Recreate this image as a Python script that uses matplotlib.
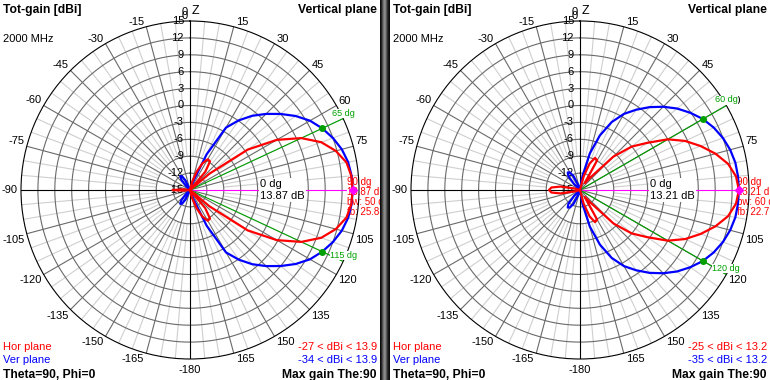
import numpy as np
import matplotlib
matplotlib.use("Agg")
import matplotlib.pyplot as plt
from matplotlib.transforms import Bbox, TransformedBbox

plt.rcParams['font.family'] = ['Liberation Sans', 'DejaVu Sans']

W, H = 770, 380
R, CY = 169, 190          # plot radius / centre height, pixels

# sample angles, degrees from Z, clockwise (-180 ... 180)
angles = np.arange(-180, 185, 5)

# gain in dBi at each angle
left_hor = [-27, -22, -20, -19, -20, -22, -24, -25, -26, -27, -25, -22, -20, -19, -20, -22, -17, -13.8,
            -11.9,
            -13.8, -17, -22, -20, -19, -20, -22, -25, -27, -26, -25, -24, -22, -20, -19, -20, -22,
            -27, -22, -16, -13.5, -11.5, -9.8, -8.7, -8.8, -10.8, -17, -10.5, -2.5, 2.8, 6.8, 9.8, 11.8, 13.2, 13.75,
            13.87,
            13.75, 13.2, 11.8, 9.8, 6.8, 2.8, -2.5, -10.5, -17, -10.8, -8.8, -8.7, -9.8, -11.5, -13.5, -16, -22, -27]
left_ver = [-30, -27, -22, -18, -15, -13.2, -12.2, -12.0, -12.6, -14, -17, -21, -25, -29, -32, -34, -32, -30,
            -28,
            -30, -32, -34, -32, -29, -25, -21, -17, -14, -12.6, -12.0, -12.2, -13.2, -15, -18, -22, -27,
            -30, -25, -21, -18, -13.5, -8, -2.2, 0.1, 2.2, 4.1, 6.0, 7.9, 9.6, 10.9, 12.0, 12.9, 13.5, 13.8,
            13.87,
            13.8, 13.5, 12.9, 12.0, 10.9, 9.6, 7.9, 6.0, 4.1, 2.2, 0.1, -2.2, -8, -13.5, -18, -21, -25, -30]
right_hor = [-25, -22, -21, -22, -24, -25, -24, -22, -21, -22, -24, -25, -24, -22, -17.5, -14, -11.5, -9.9,
             -9.5,
             -9.9, -11.5, -14, -17.5, -22, -24, -25, -24, -22, -21, -22, -24, -25, -24, -22, -21, -22,
             -25, -20, -16, -12.5, -10, -8.7, -8.9, -13.5, -12, -6.6, -3, -0.4, 3.0, 5.6, 7.8, 9.9, 11.7, 12.8,
             13.21,
             12.8, 11.7, 9.9, 7.8, 5.6, 3.0, -0.4, -3, -6.6, -12, -13.5, -8.9, -8.7, -10, -12.5, -16, -20, -25]
right_ver = [-30, -25, -20, -16.5, -14, -12.3, -11.4, -11.2, -11.8, -13.5, -16, -20, -24, -28, -31, -33, -35, -33,
             -31,
             -33, -35, -33, -31, -28, -24, -20, -16, -13.5, -11.8, -11.2, -11.4, -12.3, -14, -16.5, -20, -25,
             -30, -18, -12.5, -8.3, -4.7, -1.7, 0.6, 2.4, 4.2, 5.9, 7.5, 8.9, 10.2, 11.2, 12.0, 12.6, 13.0, 13.15,
             13.21,
             13.15, 13.0, 12.6, 12.0, 11.2, 10.2, 8.9, 7.5, 5.9, 4.2, 2.4, 0.6, -1.7, -4.7, -8.3, -12.5, -18, -30]

max_gain = [13.87, 13.21]
bw_angles = [(65, 115), (60, 120)]
beamwidth = [50, 60]
front_back = [25.8, 22.7]
hor_range = [(-27, 13.9), (-25, 13.2)]
ver_range = [(-34, 13.9), (-35, 13.2)]

GRID_DARK = '#6a6a6a'
GRID_LIGHT = '#cfcfcf'
GREEN = '#00a000'

fig = plt.figure(figsize=(W / 100, H / 100), dpi=100)
fig.patch.set_facecolor('white')


def px(x, y):
    return x / W, 1 - y / H


def draw_panel(x0, x1, cx, hor, ver, gmax, bw_pair, bw, fb, hr, vr):
    clip = TransformedBbox(Bbox.from_extents(x0 / W, 0, x1 / W, 1), fig.transFigure)
    ax = fig.add_axes([(cx - R) / W, (H - CY - R) / H, 2 * R / W, 2 * R / H], projection='polar')
    ax.set_theta_zero_location('N')
    ax.set_theta_direction(-1)
    ax.set_autoscale_on(False)
    ax.set_ylim(-15, 15)
    ax.set_xticks([])
    ax.set_yticks([])
    ax.grid(False)
    ax.spines['polar'].set_linewidth(0.8)
    ax.spines['polar'].set_color('black')

    # grid
    full = np.radians(np.linspace(0, 360, 721))
    for r in range(-12, 15, 3):
        ax.plot(full, np.full_like(full, r), color=GRID_DARK, lw=0.8, zorder=1)
    for a in range(0, 360, 5):
        t = np.radians(a)
        if a % 90 == 0:
            continue
        if a % 15 == 0:
            ax.plot([t, t], [-15, 15], color=GRID_DARK, lw=0.8, zorder=1)
        else:
            ax.plot([t, t], [-9, 15], color=GRID_LIGHT, lw=0.8, zorder=0.9)
    for a in (0, 180, 270):
        ax.plot([np.radians(a)] * 2, [-15, 15], color='black', lw=0.8, zorder=1.2)
    ax.plot([np.pi / 2] * 2, [gmax, 15], color='black', lw=0.8, zorder=1.2)
    ax.plot([np.pi / 2] * 2, [-15, gmax], color='magenta', lw=0.8, zorder=1.3)

    # angle labels (90 sits under the red gain text)
    for a in range(-165, 181, 15):
        if a == 90:
            continue
        t = np.radians(a)
        if a == 180:
            ha, va, off = 'center', 'top', (0, -6)
        elif a == -90:
            ha, va, off = 'right', 'center', (-3, 0)
        elif 0 < a < 90:
            ha, va, off = 'left', 'bottom', (2, 0)
        elif a > 90:
            ha, va, off = 'left', 'top', (2, -1)
        elif a > -90:
            ha, va, off = 'right', 'bottom', (-2, 0)
        else:
            ha, va, off = 'right', 'top', (-2, -1)
        lab = '-180' if a == 180 else str(a)
        ax.annotate(lab, (t, 15), xytext=off, textcoords='offset pixels', ha=ha, va=va,
                    fontsize=8, annotation_clip=False, zorder=1.5)
    ax.annotate('0', (0, 15), xytext=(-2, 4), textcoords='offset pixels', ha='right', va='bottom',
                fontsize=8, annotation_clip=False)
    ax.annotate('Z', (0, 15), xytext=(2, 4), textcoords='offset pixels', ha='left', va='bottom',
                fontsize=9, annotation_clip=False)

    # dB labels along the vertical axis
    for db in range(15, -16, -3):
        ax.annotate(str(db), (0, db), xytext=(-6, 0), textcoords='offset pixels', ha='right', va='center',
                    fontsize=8, annotation_clip=False, zorder=1.5)

    box = dict(boxstyle='square,pad=0.1', fc='white', ec='none')
    ax.annotate(f'0 dg\n{gmax:.2f} dB', (0, -15), xytext=(70, 0), textcoords='offset pixels',
                ha='left', va='center', fontsize=8, linespacing=1.15, bbox=box,
                annotation_clip=False, zorder=2)
    info = ax.annotate(f'90 dg\n{gmax:.2f} dB\nbw: {bw} dg\nfb: {fb} dB', (0, -15), xytext=(157, -7),
                       textcoords='offset pixels', ha='left', va='center', fontsize=7, color='red',
                       linespacing=1.0, bbox=dict(boxstyle='square,pad=0.05', fc='white', ec='none'),
                       annotation_clip=False, zorder=2)
    info.set_clip_path(None)
    info.set_clip_box(clip)
    info.set_clip_on(True)

    # -3 dB lines
    for a in bw_pair:
        t = np.radians(a)
        ax.plot([t, t], [-15, 15], color=GREEN, lw=0.8, zorder=3)
        ax.plot([t], [gmax - 3], 'o', color=GREEN, ms=4, zorder=5)
        ax.annotate(f'{a} dg', (t, 15), xytext=(0, 1), textcoords='offset pixels', ha='center', va='bottom',
                    color=GREEN, fontsize=6.5, bbox=dict(boxstyle='square,pad=0', fc='white', ec='none'),
                    annotation_clip=False, zorder=3)

    # patterns
    th = np.radians(angles)
    ax.plot(th, np.clip(ver, -15, None), color='blue', lw=1.6, zorder=4)
    ax.plot(th, np.clip(hor, -15, None), color='red', lw=1.6, zorder=4.1)
    ax.plot([np.pi / 2], [gmax], 'D', color='magenta', ms=4, zorder=5)
    ax.set_ylim(-15, 15)

    # panel texts
    fig.text(*px(x0 + 3, 13), 'Tot-gain [dBi]', fontsize=8.7, fontweight='bold', va='baseline')
    fig.text(*px(x0 + 3, 42), '2000 MHz', fontsize=8, va='baseline')
    fig.text(*px(x1 - 3, 13), 'Vertical plane', fontsize=8.7, fontweight='bold', va='baseline', ha='right')
    fig.text(*px(x0 + 3, 350), 'Hor plane', fontsize=8, color='red', va='baseline')
    fig.text(*px(x0 + 3, 363), 'Ver plane', fontsize=8, color='blue', va='baseline')
    fig.text(*px(x0 + 3, 378), 'Theta=90, Phi=0', fontsize=8.7, fontweight='bold', va='baseline')
    fig.text(*px(x1 - 3, 350), f'{hr[0]} < dBi < {hr[1]}', fontsize=8, color='red', va='baseline', ha='right')
    fig.text(*px(x1 - 3, 363), f'{vr[0]} < dBi < {vr[1]}', fontsize=8, color='blue', va='baseline', ha='right')
    fig.text(*px(x1 - 3, 378), 'Max gain The:90', fontsize=8.7, fontweight='bold', va='baseline', ha='right')


draw_panel(0, 380, 190, left_hor, left_ver, max_gain[0], bw_angles[0], beamwidth[0], front_back[0],
           hor_range[0], ver_range[0])
draw_panel(390, 770, 580, right_hor, right_ver, max_gain[1], bw_angles[1], beamwidth[1], front_back[1],
           hor_range[1], ver_range[1])

# splitter bar between the two windows
sep = fig.add_axes([380 / W, 0, 10 / W, 1])
shade = np.array([[0.05, 0.15, 0.3, 0.45, 0.55, 0.5, 0.35, 0.2, 0.1, 0.05]])
sep.imshow(shade, cmap='gray', vmin=0, vmax=1, aspect='auto', interpolation='bilinear')
sep.axis('off')

fig.savefig('out.png', dpi=100)
